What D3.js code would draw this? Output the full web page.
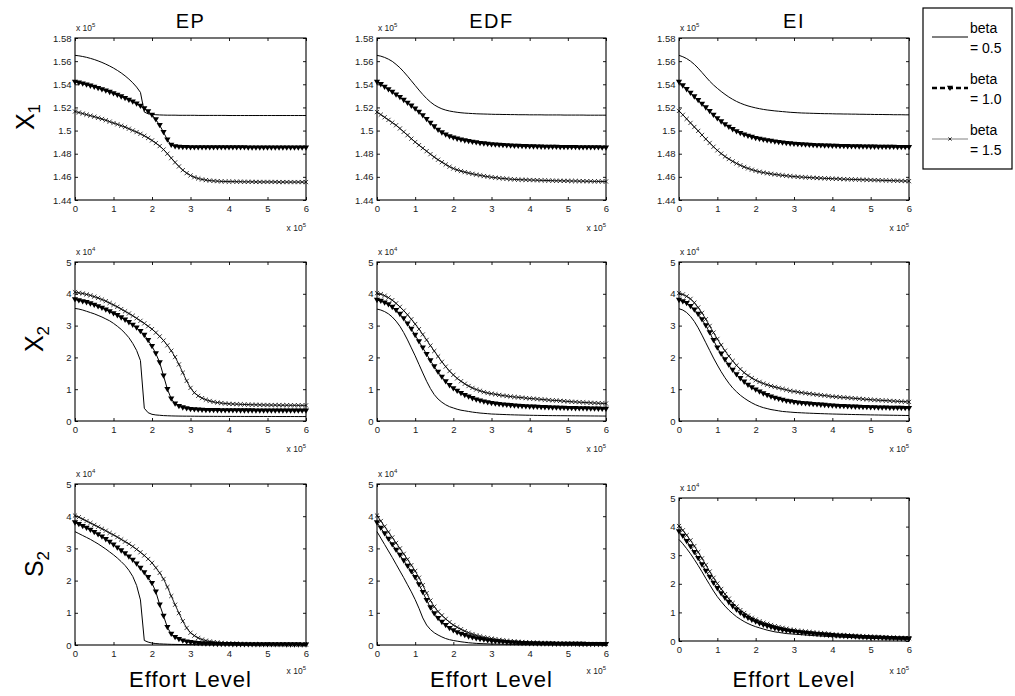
<!DOCTYPE html>
<html><head><meta charset="utf-8">
<script src="https://cdn.jsdelivr.net/npm/d3@7"></script>
<style>
body{margin:0;background:#fff;}
svg{display:block;font-family:"Liberation Sans",Arial,Helvetica,sans-serif;}
</style></head><body>
<svg id="chart" width="1015" height="696"></svg>
<script>
// ---------------- DATA ----------------
const effort = [0,0.1,0.2,0.3,0.4,0.5,0.6,0.7,0.8,0.9,1,1.1,1.2,1.3,1.4,1.5,1.6,1.7,1.8,1.9,2,2.1,2.2,2.3,2.4,2.5,2.6,2.7,2.8,2.9,3,3.1,3.2,3.3,3.4,3.5,3.6,3.7,3.8,3.9,4,4.1,4.2,4.3,4.4,4.5,4.6,4.7,4.8,4.9,5,5.1,5.2,5.3,5.4,5.5,5.6,5.7,5.8,5.9,6]; // x 10^5

const methods = ["EP","EDF","EI"];
const variableLabels = [["X","1"],["X","2"],["S","2"]];
const betaLabels = ["= 0.5","= 1.0","= 1.5"];
const effortTicks = [0,1,2,3,4,5,6];
const x1Ticks = [1.44,1.46,1.48,1.5,1.52,1.54,1.56,1.58];
const x1TickLabels = ["1.44","1.46","1.48","1.5","1.52","1.54","1.56","1.58"];
const popTicks = [0,1,2,3,4,5];
const popTickLabels = ["0","1","2","3","4","5"];

// X1 (x 10^5)
const X1_EP_b05 = [1.5650,1.5646,1.5640,1.5633,1.5624,1.5614,1.5602,1.5589,1.5574,1.5558,
1.5540,1.5520,1.5498,1.5473,1.5445,1.5413,1.5376,1.5330,1.5160,1.5145,
1.5140,1.5137,1.5135,1.5134,1.5133,1.5133,1.5133,1.5132,1.5132,1.5132,
1.5132,1.5132,1.5131,1.5131,1.5131,1.5131,1.5131,1.5131,1.5131,1.5131,
1.5130,1.5130,1.5130,1.5130,1.5130,1.5130,1.5130,1.5130,1.5130,1.5130,
1.5130,1.5130,1.5130,1.5130,1.5130,1.5130,1.5130,1.5130,1.5130,1.5130,1.5130];
const X1_EP_b10 = [1.5420,1.5412,1.5404,1.5395,1.5386,1.5376,1.5366,1.5355,1.5344,1.5332,
1.5320,1.5307,1.5293,1.5279,1.5264,1.5248,1.5231,1.5212,1.5190,1.5165,
1.5135,1.5095,1.5045,1.4985,1.4920,1.4875,1.4862,1.4858,1.4856,1.4855,
1.4854,1.4854,1.4854,1.4854,1.4853,1.4853,1.4853,1.4853,1.4853,1.4853,
1.4853,1.4853,1.4853,1.4853,1.4853,1.4852,1.4852,1.4852,1.4852,1.4852,
1.4852,1.4852,1.4852,1.4852,1.4852,1.4852,1.4852,1.4852,1.4852,1.4852,1.4852];
const X1_EP_b15 = [1.5165,1.5156,1.5147,1.5138,1.5129,1.5120,1.5110,1.5100,1.5089,1.5077,
1.5065,1.5054,1.5042,1.5030,1.5016,1.5001,1.4987,1.4972,1.4955,1.4936,
1.4915,1.4892,1.4866,1.4836,1.4800,1.4762,1.4725,1.4690,1.4658,1.4632,
1.4612,1.4597,1.4586,1.4578,1.4572,1.4568,1.4565,1.4563,1.4561,1.4560,
1.4559,1.4559,1.4558,1.4558,1.4557,1.4557,1.4557,1.4556,1.4556,1.4556,
1.4556,1.4556,1.4556,1.4555,1.4555,1.4555,1.4555,1.4555,1.4555,1.4555,1.4555];
const X1_EDF_b05 = [1.5650,1.5643,1.5632,1.5617,1.5598,1.5572,1.5543,1.5508,1.5470,1.5430,
1.5390,1.5350,1.5312,1.5277,1.5247,1.5222,1.5203,1.5188,1.5177,1.5169,
1.5163,1.5158,1.5154,1.5151,1.5149,1.5147,1.5145,1.5144,1.5143,1.5142,
1.5141,1.5140,1.5140,1.5139,1.5139,1.5138,1.5138,1.5137,1.5137,1.5137,
1.5136,1.5136,1.5136,1.5136,1.5135,1.5135,1.5135,1.5135,1.5135,1.5134,
1.5134,1.5134,1.5134,1.5134,1.5134,1.5133,1.5133,1.5133,1.5133,1.5133,1.5133];
const X1_EDF_b10 = [1.5420,1.5399,1.5377,1.5355,1.5333,1.5310,1.5287,1.5263,1.5238,1.5213,
1.5188,1.5160,1.5130,1.5098,1.5065,1.5034,1.5005,1.4982,1.4963,1.4948,
1.4937,1.4928,1.4920,1.4913,1.4907,1.4901,1.4896,1.4891,1.4887,1.4883,
1.4880,1.4877,1.4875,1.4873,1.4871,1.4869,1.4867,1.4866,1.4864,1.4863,
1.4862,1.4861,1.4860,1.4859,1.4858,1.4858,1.4857,1.4857,1.4856,1.4856,
1.4855,1.4855,1.4855,1.4854,1.4854,1.4854,1.4853,1.4853,1.4853,1.4852,1.4852];
const X1_EDF_b15 = [1.5160,1.5138,1.5115,1.5092,1.5069,1.5046,1.5018,1.4989,1.4960,1.4930,
1.4901,1.4874,1.4848,1.4822,1.4796,1.4771,1.4748,1.4727,1.4707,1.4688,
1.4672,1.4660,1.4650,1.4641,1.4633,1.4626,1.4619,1.4613,1.4607,1.4602,
1.4597,1.4593,1.4589,1.4586,1.4583,1.4580,1.4578,1.4576,1.4575,1.4574,
1.4573,1.4572,1.4571,1.4570,1.4569,1.4568,1.4567,1.4566,1.4566,1.4565,
1.4565,1.4564,1.4564,1.4563,1.4563,1.4562,1.4562,1.4561,1.4561,1.4560,1.4560];
const X1_EI_b05 = [1.5650,1.5638,1.5622,1.5600,1.5572,1.5539,1.5502,1.5464,1.5427,1.5394,
1.5365,1.5338,1.5313,1.5290,1.5270,1.5252,1.5237,1.5224,1.5213,1.5204,
1.5196,1.5189,1.5183,1.5178,1.5174,1.5170,1.5167,1.5164,1.5161,1.5158,
1.5156,1.5154,1.5152,1.5151,1.5150,1.5149,1.5148,1.5147,1.5146,1.5146,
1.5145,1.5144,1.5144,1.5143,1.5143,1.5142,1.5142,1.5141,1.5141,1.5140,
1.5140,1.5139,1.5139,1.5139,1.5138,1.5138,1.5137,1.5137,1.5137,1.5136,1.5136];
const X1_EI_b10 = [1.5420,1.5388,1.5356,1.5324,1.5293,1.5262,1.5230,1.5198,1.5166,1.5134,
1.5104,1.5077,1.5052,1.5030,1.5010,1.4992,1.4977,1.4964,1.4953,1.4943,
1.4934,1.4927,1.4920,1.4914,1.4909,1.4904,1.4899,1.4895,1.4891,1.4887,
1.4884,1.4881,1.4879,1.4877,1.4875,1.4873,1.4871,1.4870,1.4869,1.4868,
1.4867,1.4866,1.4865,1.4864,1.4863,1.4862,1.4862,1.4861,1.4860,1.4860,
1.4859,1.4859,1.4858,1.4858,1.4857,1.4857,1.4857,1.4856,1.4856,1.4856,1.4855];
const X1_EI_b15 = [1.5170,1.5136,1.5101,1.5066,1.5031,1.4997,1.4962,1.4927,1.4893,1.4860,
1.4829,1.4801,1.4776,1.4754,1.4734,1.4716,1.4700,1.4686,1.4673,1.4662,
1.4652,1.4644,1.4637,1.4631,1.4626,1.4621,1.4617,1.4613,1.4609,1.4606,
1.4603,1.4600,1.4598,1.4596,1.4594,1.4592,1.4590,1.4589,1.4587,1.4586,
1.4584,1.4583,1.4582,1.4580,1.4579,1.4578,1.4577,1.4576,1.4575,1.4574,
1.4573,1.4572,1.4571,1.4570,1.4569,1.4568,1.4567,1.4566,1.4565,1.4564,1.4563];

// X2 (x 10^4)
const X2_EP_b05 = [3.54,3.52,3.49,3.45,3.41,3.37,3.32,3.27,3.21,3.15,
3.07,2.98,2.88,2.76,2.62,2.44,2.22,1.90,0.40,0.26,
0.21,0.19,0.18,0.17,0.165,0.16,0.157,0.155,0.153,0.152,
0.151,0.15,0.149,0.148,0.147,0.147,0.146,0.146,0.145,0.145,
0.145,0.144,0.144,0.144,0.143,0.143,0.143,0.143,0.142,0.142,
0.142,0.142,0.142,0.141,0.141,0.141,0.141,0.141,0.14,0.14,0.14];
const X2_EP_b10 = [3.82,3.79,3.76,3.73,3.69,3.65,3.60,3.55,3.50,3.44,
3.38,3.32,3.25,3.18,3.10,3.02,2.93,2.82,2.70,2.54,
2.35,2.12,1.84,1.42,1.00,0.70,0.54,0.46,0.42,0.39,
0.37,0.36,0.35,0.345,0.34,0.337,0.335,0.333,0.331,0.33,
0.329,0.328,0.327,0.326,0.326,0.325,0.325,0.324,0.324,0.323,
0.323,0.323,0.322,0.322,0.322,0.321,0.321,0.321,0.32,0.32,0.32];
const X2_EP_b15 = [4.05,4.03,4.01,3.98,3.95,3.91,3.87,3.82,3.77,3.71,
3.65,3.59,3.52,3.45,3.38,3.31,3.23,3.15,3.07,2.98,
2.89,2.78,2.66,2.53,2.38,2.21,2.01,1.78,1.52,1.26,
1.04,0.89,0.79,0.72,0.67,0.63,0.60,0.58,0.565,0.55,
0.54,0.535,0.53,0.525,0.52,0.515,0.512,0.51,0.507,0.505,
0.503,0.501,0.5,0.498,0.497,0.496,0.495,0.494,0.493,0.492,0.49];
const X2_EDF_b05 = [3.52,3.49,3.44,3.37,3.27,3.14,2.98,2.78,2.55,2.30,
2.05,1.78,1.51,1.25,1.02,0.83,0.69,0.59,0.51,0.45,
0.41,0.37,0.34,0.32,0.30,0.28,0.265,0.25,0.24,0.23,
0.22,0.215,0.21,0.205,0.20,0.196,0.192,0.189,0.186,0.183,
0.18,0.178,0.176,0.174,0.172,0.17,0.169,0.168,0.167,0.166,
0.165,0.164,0.163,0.162,0.161,0.16,0.159,0.158,0.157,0.156,0.155];
const X2_EDF_b10 = [3.80,3.77,3.72,3.66,3.58,3.48,3.36,3.22,3.06,2.89,
2.70,2.50,2.30,2.10,1.90,1.71,1.54,1.38,1.24,1.12,
1.02,0.94,0.87,0.81,0.76,0.71,0.67,0.635,0.605,0.58,
0.555,0.54,0.525,0.51,0.5,0.49,0.48,0.472,0.464,0.457,
0.45,0.444,0.438,0.433,0.428,0.423,0.419,0.415,0.411,0.407,
0.403,0.4,0.397,0.394,0.391,0.388,0.386,0.384,0.381,0.379,0.377];
const X2_EDF_b15 = [4.02,3.99,3.94,3.88,3.80,3.70,3.59,3.47,3.34,3.20,
3.05,2.89,2.72,2.55,2.37,2.20,2.03,1.86,1.71,1.57,
1.45,1.34,1.25,1.17,1.10,1.04,0.99,0.95,0.91,0.88,
0.86,0.84,0.82,0.80,0.785,0.77,0.755,0.745,0.735,0.72,
0.71,0.70,0.69,0.68,0.67,0.66,0.65,0.645,0.635,0.625,
0.615,0.605,0.6,0.592,0.585,0.578,0.572,0.566,0.56,0.555,0.55];
const X2_EI_b05 = [3.53,3.49,3.41,3.29,3.13,2.93,2.70,2.46,2.22,1.98,
1.76,1.55,1.36,1.19,1.04,0.92,0.81,0.72,0.64,0.57,
0.51,0.46,0.42,0.39,0.36,0.34,0.32,0.30,0.29,0.28,
0.27,0.263,0.257,0.251,0.246,0.241,0.236,0.232,0.228,0.224,
0.22,0.217,0.214,0.211,0.208,0.205,0.202,0.2,0.197,0.195,
0.192,0.19,0.188,0.186,0.184,0.182,0.18,0.178,0.176,0.174,0.172];
const X2_EI_b10 = [3.80,3.76,3.70,3.61,3.50,3.36,3.19,3.00,2.78,2.54,
2.30,2.11,1.93,1.76,1.60,1.46,1.34,1.23,1.13,1.05,
0.98,0.92,0.86,0.81,0.76,0.72,0.69,0.66,0.63,0.61,
0.59,0.575,0.56,0.548,0.537,0.526,0.516,0.507,0.498,0.489,
0.48,0.473,0.466,0.46,0.454,0.448,0.443,0.438,0.434,0.43,
0.426,0.422,0.419,0.416,0.413,0.41,0.408,0.406,0.404,0.402,0.4];
const X2_EI_b15 = [4.02,3.98,3.92,3.84,3.72,3.57,3.40,3.20,2.99,2.78,
2.58,2.39,2.21,2.04,1.89,1.75,1.63,1.52,1.43,1.35,
1.28,1.23,1.18,1.14,1.10,1.07,1.04,1.01,0.98,0.95,
0.93,0.91,0.89,0.874,0.858,0.843,0.828,0.814,0.8,0.786,
0.77,0.76,0.75,0.74,0.73,0.72,0.71,0.7,0.69,0.68,
0.67,0.662,0.655,0.648,0.641,0.634,0.627,0.62,0.613,0.606,0.6];

// S2 (x 10^4)
const S2_EP_b05 = [3.52,3.46,3.40,3.34,3.28,3.21,3.14,3.06,2.98,2.89,
2.80,2.70,2.59,2.47,2.32,2.13,1.85,1.40,0.14,0.09,
0.06,0.045,0.035,0.03,0.025,0.02,0.018,0.016,0.015,0.014,
0.013,0.012,0.012,0.011,0.011,0.011,0.01,0.01,0.01,0.01,
0.01,0.01,0.01,0.01,0.01,0.01,0.01,0.01,0.01,0.01,
0.01,0.01,0.01,0.01,0.01,0.01,0.01,0.01,0.01,0.01,0.01];
const S2_EP_b10 = [3.80,3.75,3.69,3.63,3.57,3.50,3.43,3.36,3.28,3.20,
3.11,3.02,2.93,2.84,2.74,2.64,2.52,2.39,2.25,2.10,
1.92,1.65,1.25,0.90,0.55,0.34,0.24,0.18,0.13,0.10,
0.08,0.065,0.055,0.045,0.04,0.035,0.03,0.027,0.024,0.022,
0.02,0.019,0.018,0.017,0.016,0.015,0.015,0.014,0.014,0.013,
0.013,0.013,0.012,0.012,0.012,0.011,0.011,0.011,0.011,0.01,0.01];
const S2_EP_b15 = [4.02,3.97,3.91,3.85,3.79,3.73,3.67,3.61,3.55,3.48,
3.42,3.35,3.28,3.21,3.14,3.06,2.97,2.88,2.78,2.67,
2.55,2.40,2.24,2.05,1.80,1.52,1.25,0.99,0.74,0.53,
0.38,0.29,0.22,0.17,0.135,0.11,0.09,0.075,0.065,0.055,
0.05,0.045,0.04,0.037,0.034,0.031,0.029,0.027,0.025,0.023,
0.022,0.021,0.02,0.019,0.018,0.017,0.016,0.015,0.014,0.013,0.012];
const S2_EDF_b05 = [3.52,3.32,3.12,2.92,2.72,2.51,2.30,2.09,1.87,1.65,
1.41,1.14,0.84,0.62,0.48,0.38,0.31,0.25,0.20,0.165,
0.14,0.12,0.10,0.085,0.07,0.06,0.05,0.045,0.04,0.035,
0.03,0.028,0.026,0.024,0.022,0.02,0.019,0.018,0.017,0.016,
0.015,0.014,0.014,0.013,0.013,0.012,0.012,0.011,0.011,0.011,
0.01,0.01,0.01,0.01,0.01,0.01,0.01,0.01,0.01,0.01,0.01];
const S2_EDF_b10 = [3.80,3.63,3.46,3.29,3.12,2.95,2.79,2.62,2.45,2.28,
2.10,1.88,1.64,1.39,1.16,0.98,0.83,0.71,0.61,0.52,
0.45,0.39,0.34,0.30,0.26,0.23,0.20,0.18,0.16,0.14,
0.125,0.11,0.10,0.09,0.08,0.072,0.066,0.061,0.056,0.052,
0.048,0.045,0.042,0.04,0.038,0.036,0.034,0.033,0.032,0.031,
0.03,0.029,0.028,0.027,0.026,0.025,0.024,0.023,0.022,0.021,0.02];
const S2_EDF_b15 = [4.02,3.85,3.68,3.51,3.34,3.17,3.00,2.83,2.66,2.48,
2.30,2.09,1.86,1.61,1.38,1.19,1.04,0.92,0.81,0.71,
0.62,0.55,0.49,0.43,0.38,0.34,0.30,0.27,0.24,0.22,
0.20,0.18,0.16,0.145,0.13,0.12,0.11,0.10,0.093,0.086,
0.08,0.075,0.07,0.066,0.062,0.058,0.055,0.052,0.049,0.047,
0.045,0.043,0.041,0.039,0.037,0.035,0.034,0.033,0.032,0.031,0.03];
const S2_EI_b05 = [3.55,3.40,3.23,3.05,2.85,2.64,2.42,2.19,1.97,1.75,
1.55,1.38,1.22,1.08,0.96,0.85,0.76,0.68,0.61,0.55,
0.50,0.46,0.42,0.38,0.35,0.32,0.30,0.28,0.26,0.25,
0.24,0.23,0.22,0.21,0.2,0.19,0.182,0.174,0.166,0.158,
0.15,0.144,0.138,0.132,0.126,0.12,0.114,0.108,0.103,0.098,
0.093,0.089,0.085,0.081,0.077,0.074,0.071,0.068,0.065,0.062,0.06];
const S2_EI_b10 = [3.83,3.67,3.49,3.30,3.10,2.89,2.67,2.45,2.24,2.03,
1.84,1.66,1.50,1.35,1.21,1.09,0.98,0.88,0.80,0.73,
0.67,0.61,0.56,0.52,0.48,0.44,0.41,0.38,0.36,0.34,
0.32,0.305,0.29,0.275,0.262,0.25,0.238,0.227,0.216,0.205,
0.195,0.186,0.177,0.169,0.161,0.153,0.146,0.139,0.132,0.126,
0.12,0.115,0.11,0.105,0.1,0.096,0.092,0.088,0.085,0.082,0.08];
const S2_EI_b15 = [4.02,3.87,3.70,3.52,3.32,3.11,2.89,2.66,2.43,2.21,
2.01,1.82,1.64,1.48,1.33,1.20,1.08,0.98,0.89,0.81,
0.75,0.69,0.64,0.60,0.56,0.52,0.49,0.46,0.43,0.40,
0.38,0.36,0.345,0.33,0.315,0.3,0.287,0.274,0.262,0.25,
0.23,0.222,0.214,0.206,0.198,0.19,0.182,0.175,0.168,0.161,
0.155,0.149,0.143,0.137,0.131,0.126,0.121,0.116,0.111,0.105,0.1];

// ---------------- TABLES FOR DRAWING ----------------
const seriesTable = [
  [[X1_EP_b05,X1_EP_b10,X1_EP_b15],[X1_EDF_b05,X1_EDF_b10,X1_EDF_b15],[X1_EI_b05,X1_EI_b10,X1_EI_b15]],
  [[X2_EP_b05,X2_EP_b10,X2_EP_b15],[X2_EDF_b05,X2_EDF_b10,X2_EDF_b15],[X2_EI_b05,X2_EI_b10,X2_EI_b15]],
  [[S2_EP_b05,S2_EP_b10,S2_EP_b15],[S2_EDF_b05,S2_EDF_b10,S2_EDF_b15],[S2_EI_b05,S2_EI_b10,S2_EI_b15]]
];
const rowAxes = [
  {domain:[1.44,1.58], ticks:x1Ticks, labels:x1TickLabels, exp:"5"},
  {domain:[0,5], ticks:popTicks, labels:popTickLabels, exp:"4"},
  {domain:[0,5], ticks:popTicks, labels:popTickLabels, exp:"4"}
];

// ---------------- LAYOUT ----------------
const colRange = [[75,306],[377,606],[679,909]];
const rowRange = [[38,200],[262,421],[484,645]];
const svg = d3.select("#chart");
svg.append("rect").attr("width",1015).attr("height",696).attr("fill","#fff");
const FONT = '"Liberation Sans",Arial,Helvetica,sans-serif';

const triPath = "M-3.1,-2.3L3.1,-2.3L0,3Z";
const xPath = "M-2.1,-2.1L2.1,2.1M-2.1,2.1L2.1,-2.1";

function expLabel(g, x, y, exp, anchor){
  const t = g.append("text").attr("x",x).attr("y",y).attr("text-anchor",anchor)
    .attr("font-size",8.5).attr("fill","#222").attr("font-family",FONT);
  t.append("tspan").text("x 10");
  t.append("tspan").attr("dy",-4).attr("font-size",6).text(exp);
}

function styleAxis(a){
  a.attr("font-family",FONT).attr("font-size",9.5);
  a.select(".domain").remove();
  a.selectAll(".tick line").attr("stroke","#000").attr("stroke-width",0.9);
  a.selectAll(".tick text").attr("fill","#1a1a1a");
}

for (let ri=0; ri<3; ri++){
  for (let ci=0; ci<3; ci++){
    const [xl,xr] = colRange[ci];
    let [yt,yb] = rowRange[ri];
    if (ri===2 && ci===2){ yt = 498; yb = 641; }
    const ax = rowAxes[ri];
    const xs = d3.scaleLinear().domain([0,6]).range([xl,xr]);
    const ys = d3.scaleLinear().domain(ax.domain).range([yb,yt]);
    const g = svg.append("g");

    g.append("g").attr("transform",`translate(0,${yb})`)
      .call(d3.axisBottom(xs).tickValues(effortTicks).tickFormat(d3.format("d")).tickSizeInner(-3).tickSizeOuter(0).tickPadding(5.5))
      .call(styleAxis);
    g.append("g").attr("transform",`translate(0,${yt})`)
      .call(d3.axisTop(xs).tickValues(effortTicks).tickFormat("").tickSizeInner(-3).tickSizeOuter(0))
      .call(styleAxis);
    g.append("g").attr("transform",`translate(${xl},0)`)
      .call(d3.axisLeft(ys).tickValues(ax.ticks).tickFormat((d,i)=>ax.labels[i]).tickSizeInner(-3).tickSizeOuter(0).tickPadding(3.5))
      .call(styleAxis);
    g.append("g").attr("transform",`translate(${xr},0)`)
      .call(d3.axisRight(ys).tickValues(ax.ticks).tickFormat("").tickSizeInner(-3).tickSizeOuter(0))
      .call(styleAxis);

    g.append("rect").attr("x",xl).attr("y",yt).attr("width",xr-xl).attr("height",yb-yt)
      .attr("fill","none").attr("stroke","#000").attr("stroke-width",1.1);

    const series = seriesTable[ri][ci];
    const line = vals => d3.line().x((d,i)=>xs(effort[i])).y(d=>ys(d))(vals);

    // beta 0.5
    g.append("path").attr("d",line(series[0])).attr("fill","none").attr("stroke","#000").attr("stroke-width",1);
    // beta 1.5
    g.append("path").attr("d",line(series[2])).attr("fill","none").attr("stroke","#000").attr("stroke-width",0.9);
    g.append("g").selectAll("path").data(series[2]).join("path")
      .attr("transform",(d,i)=>`translate(${xs(effort[i])},${ys(d)})`)
      .attr("d",xPath).attr("fill","none").attr("stroke","#000").attr("stroke-width",0.75);
    // beta 1.0
    g.append("path").attr("d",line(series[1])).attr("fill","none").attr("stroke","#000").attr("stroke-width",1);
    g.append("g").selectAll("path").data(series[1]).join("path")
      .attr("transform",(d,i)=>`translate(${xs(effort[i])},${ys(d)})`)
      .attr("d",triPath).attr("fill","#000").attr("stroke","none");

    // exponent labels
    expLabel(g, xl+1, yt-7, ax.exp, "start");
    expLabel(g, xr, ri===2 ? 674 : yb+31, "5", "end");

    if (ri===0){
      g.append("text").attr("x",(xl+xr)/2).attr("y",28).attr("text-anchor","middle")
        .attr("font-size",20).attr("letter-spacing","1.5px").attr("font-family",FONT).attr("fill","#000")
        .text(methods[ci]);
    }
    if (ri===2){
      g.append("text").attr("x",(xl+xr)/2).attr("y",687).attr("text-anchor","middle")
        .attr("font-size",22).attr("letter-spacing","1px").attr("font-family",FONT).attr("fill","#000")
        .text("Effort Level");
    }
    if (ci===0){
      const bx = ri===0 ? 34 : 43;
      const cy = ri===0 ? 117 : (ri===1 ? 339 : 564);
      const t = g.append("text").attr("transform",`translate(${bx},${cy}) rotate(-90)`)
        .attr("text-anchor","middle").attr("font-size",25).attr("font-family",FONT).attr("fill","#000");
      t.append("tspan").text(variableLabels[ri][0]);
      t.append("tspan").attr("dy",6).attr("font-size",17).text(variableLabels[ri][1]);
    }
  }
}

// ---------------- LEGEND ----------------
const lg = svg.append("g");
lg.append("rect").attr("x",923).attr("y",8).attr("width",89).attr("height",161)
  .attr("fill","#fff").attr("stroke","#000").attr("stroke-width",1.2);
const legendY = [37,88,139];
const legendStyles = [
  {stroke:"#000", width:1, dash:null, marker:null},
  {stroke:"#000", width:2.6, dash:"5,3", marker:"tri"},
  {stroke:"#808080", width:1, dash:null, marker:"x"}
];
legendY.forEach((y,i)=>{
  const s = legendStyles[i];
  lg.append("line").attr("x1",932).attr("x2",968).attr("y1",y).attr("y2",y)
    .attr("stroke",s.stroke).attr("stroke-width",s.width).attr("stroke-dasharray",s.dash);
  if (s.marker==="tri") lg.append("path").attr("transform",`translate(950,${y})`).attr("d",triPath).attr("fill","#000");
  if (s.marker==="x") lg.append("path").attr("transform",`translate(950,${y})`).attr("d","M-1.6,-1.6L1.6,1.6M-1.6,1.6L1.6,-1.6").attr("stroke","#000").attr("stroke-width",0.8);
  lg.append("text").attr("x",970).attr("y",y-4).attr("font-size",14).attr("font-family",FONT).attr("fill","#000").text("beta");
  lg.append("text").attr("x",970).attr("y",y+16).attr("font-size",14).attr("font-family",FONT).attr("fill","#000").text(betaLabels[i]);
});
</script>
</body></html>
